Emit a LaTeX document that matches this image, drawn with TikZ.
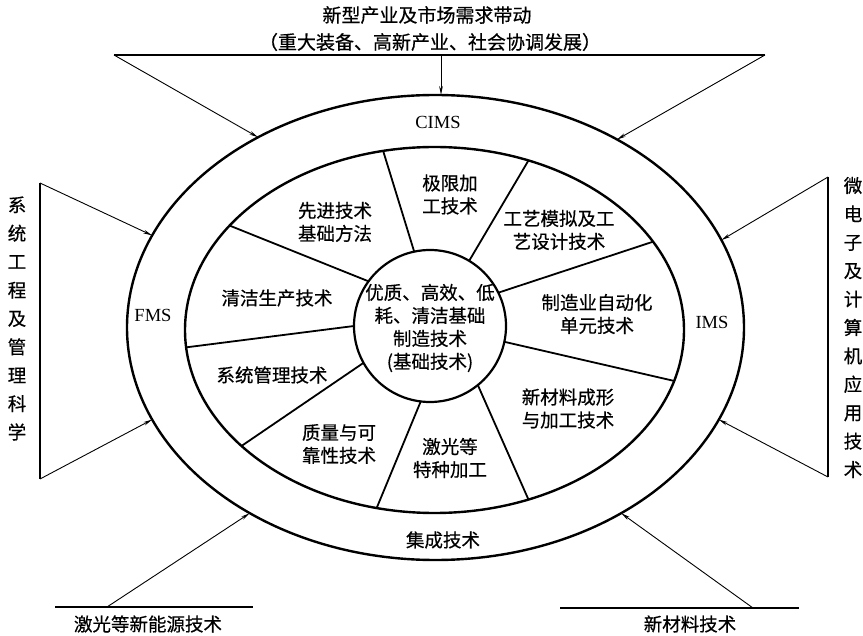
\documentclass[tikz,border=0pt]{standalone}
\usepackage{fontspec}
\setmainfont{Liberation Serif}
\newfontfamily\cjk[FakeBold=0.5]{Noto Sans CJK SC}
\usetikzlibrary{shapes.geometric,arrows.meta}
\begin{document}
\begin{tikzpicture}[x=1pt,y=-1pt,
  ring/.style={draw, line width=2.4pt, ellipse, inner sep=0pt, outer sep=0pt},
  spoke/.style={line width=1.8pt},
  feed/.style={line width=0.9pt, -{Stealth[length=9pt,width=3.6pt]}},
  bar/.style={line width=1.1pt},
  lab/.style={font=\cjk\fontsize{18.5}{23}\selectfont, align=center, inner sep=0pt},
  ttl/.style={font=\cjk\fontsize{19}{23}\selectfont, align=center, inner sep=0pt},
  eng/.style={font=\fontsize{18.5}{22}\selectfont, inner sep=0pt},
  vtext/.style={font=\cjk\fontsize{18.5}{28.4}\selectfont, align=center, inner sep=0pt}
]
\useasboundingbox (0,0) rectangle (863,636);

% rings and core
\node[ring, minimum width=617pt, minimum height=465pt] (outer) at (435.5,327.5) {};
\node[ring, minimum width=499pt, minimum height=366pt] (inner) at (434.5,330) {};
\node[draw, circle, line width=2.2pt, minimum size=152pt, inner sep=0pt, outer sep=0pt] (core) at (430,326) {};

% spokes
\draw[spoke] (core.102.5) -- (inner.106.2);
\draw[spoke] (core.59) -- (inner.61.1);
\draw[spoke] (core.26.9) -- (inner.22.7);
\draw[spoke] (core.348.4) -- (inner.348.9);
\draw[spoke] (core.309.7) -- (inner.299.8);
\draw[spoke] (core.263.7) -- (inner.252.3);
\draw[spoke] (core.209.6) -- (inner.211);
\draw[spoke] (core.180.7) -- (inner.184.2);
\draw[spoke] (core.144.1) -- (inner.153.2);

% top feed
\coordinate (tl) at (114,55);
\coordinate (tr) at (765,55);
\coordinate (tm) at (441,55);
\draw[bar] (tl) -- (tr);
\draw[feed] (tl) -- (outer.133.9);
\draw[feed] (tr) -- (outer.46.4);
\draw[feed] (tm) -- (tm |- outer.north);

% left feed
\coordinate (lt) at (40,183);
\coordinate (lb) at (40,479);
\draw[bar] (lt) -- (lb);
\draw[feed] (lt) -- (outer.162);
\draw[feed] (lb) -- (outer.198.5);

% right feed
\coordinate (rt) at (828,177);
\coordinate (rb) at (828,477);
\draw[bar] (rt) -- (rb);
\draw[feed] (rt) -- (outer.17.7);
\draw[feed] (rb) -- (outer.342.5);

% bottom feeds
\coordinate (bla) at (55,607);
\coordinate (blb) at (253,607);
\coordinate (bls) at (107,607);
\draw[bar] (bla) -- (blb);
\draw[feed] (bls) -- (outer.225.6);
\coordinate (bra) at (560,608);
\coordinate (brb) at (799,608);
\coordinate (brs) at (753,608);
\draw[bar] (bra) -- (brb);
\draw[feed] (brs) -- (outer.315.5);

% texts
\node[ttl] (t1) at (427,15) {新型产业及市场需求带动};
\node[ttl] (t2) at (430,42) {（重大装备、高新产业、社会协调发展）};
\node[lab] (coretext) at (430,328) {优质、高效、低\\耗、清洁基础\\制造技术\\(基础技术)};
\node[lab] (s1) at (450,194.5) {极限加\\工技术};
\node[lab] (s2) at (335,222) {先进技术\\基础方法};
\node[lab] (s3) at (559,230) {工艺模拟及工\\艺设计技术};
\node[lab] (s4) at (277,298) {清洁生产技术};
\node[lab] (s5) at (597,314) {制造业自动化\\单元技术};
\node[lab] (s6) at (272,375) {系统管理技术};
\node[lab] (s7) at (568,408.5) {新材料成形\\与加工技术};
\node[lab] (s8) at (339,444) {质量与可\\靠性技术};
\node[lab] (s9) at (450,458) {激光等\\特种加工};
\node[lab] (ring1) at (443,540) {集成技术};
\node[eng] (cims) at (438,122) {CIMS};
\node[eng] (fms) at (153,315) {FMS};
\node[eng] (ims) at (712,322) {IMS};
\node[vtext] (lv) at (17,318.5) {系\\统\\工\\程\\及\\管\\理\\科\\学};
\node[vtext] (rv) at (853,327.5) {微\\电\\子\\及\\计\\算\\机\\应\\用\\技\\术};
\node[lab] (bl) at (148,624) {激光等新能源技术};
\node[lab] (br) at (690,624) {新材料技术};
\end{tikzpicture}
\end{document}
